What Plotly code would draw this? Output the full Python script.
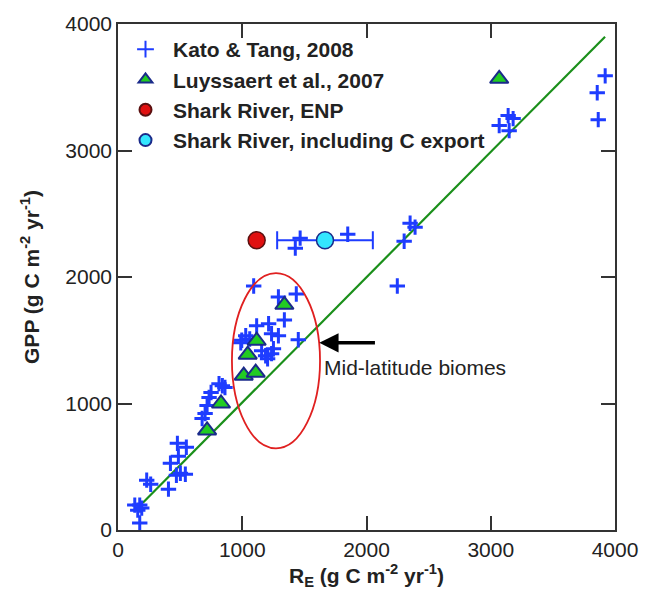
import plotly.graph_objects as go

# Kato & Tang, 2008
kato_re = [135, 175, 191, 159, 175, 231, 263, 406, 470, 502, 542, 422, 486, 478, 550,
           677, 701, 717, 733, 749, 813, 861, 840,
           988, 1028, 1092, 1116, 1156, 1188, 1204, 1212, 1236, 1251, 1236, 1291, 1291,
           1339, 1435, 1451, 996, 1060,
           1427, 1466, 1849, 2351, 2391, 2303, 2248,
           3068, 3140, 3180, 3148, 3921, 3857, 3865]
kato_gpp = [197, 197, 173, 157, 55, 394, 362, 323, 433, 449, 441, 528, 583, 685, 654,
            882, 921, 984, 1047, 1087, 1157, 1126, 1140,
            1480, 1535, 1929, 1614, 1417, 1378, 1354, 1630, 1551, 1433, 1394, 1535, 1842,
            1661, 1866, 1504, 1500, 1510,
            2228, 2307, 2338, 2425, 2394, 2283, 1929,
            3197, 3276, 3252, 3157, 3590, 3457, 3244]

# Luyssaert et al., 2007
luy_re = [717, 829, 1012, 1108, 1044, 1116, 1339, 3068]
luy_gpp = [787, 1000, 1220, 1244, 1386, 1496, 1780, 3567]

# Shark River
enp_re = [1116]
enp_gpp = [2291]
exp_re = [1666]
exp_gpp = [2291]
exp_err = [385]

# fitted line
line_re = [200, 3920]
line_gpp = [215, 3900]

FONT = "Arial, Liberation Sans, sans-serif"

fig = go.Figure()
fig.add_trace(go.Scatter(x=line_re, y=line_gpp, mode="lines",
                         line=dict(color="#1a8f1a", width=2.2), showlegend=False))
fig.add_trace(go.Scatter(x=kato_re, y=kato_gpp, mode="markers", name="Kato & Tang, 2008",
                         marker=dict(symbol="cross-thin", size=11,
                                     line=dict(color="#1e3cff", width=3))))
fig.add_trace(go.Scatter(x=luy_re, y=luy_gpp, mode="markers", name="Luyssaert et al., 2007",
                         marker=dict(symbol="triangle-up", size=16, color="#22cc22",
                                     line=dict(color="#1a2a8a", width=2))))
fig.add_trace(go.Scatter(x=enp_re, y=enp_gpp, mode="markers", name="Shark River, ENP",
                         marker=dict(symbol="circle", size=17, color="#e01010",
                                     line=dict(color="#5a1010", width=1.5))))
fig.add_trace(go.Scatter(x=exp_re, y=exp_gpp, mode="markers",
                         name="Shark River, including C export",
                         error_x=dict(type="data", array=exp_err, color="#1e3cff",
                                      thickness=2, width=9),
                         marker=dict(symbol="circle", size=17, color="#33e6ff",
                                     line=dict(color="#1a2a8a", width=1.5))))

fig.add_shape(type="circle", xref="x", yref="y", x0=917, x1=1626, y0=646, y1=2031,
              line=dict(color="#e02020", width=1.8))

fig.add_annotation(x=1620, y=1480, ax=2080, ay=1480, xref="x", yref="y",
                   axref="x", ayref="y", text="", showarrow=True,
                   arrowhead=2, arrowsize=1.1, arrowwidth=3.5, arrowcolor="black")
fig.add_annotation(x=1645, y=1283, xref="x", yref="y", text="Mid-latitude biomes",
                   showarrow=False, xanchor="left",
                   font=dict(family=FONT, size=21, color="#222"))

axis_common = dict(range=[0, 4000], dtick=1000, ticks="inside", ticklen=14,
                   tickwidth=1.5, tickcolor="#333", showline=True, linecolor="#333",
                   linewidth=1.5, mirror="ticks", showgrid=False, zeroline=False,
                   tickfont=dict(family=FONT, size=21, color="#222"))

fig.update_layout(
    width=650, height=605,
    margin=dict(l=118, r=24, t=22, b=75),
    plot_bgcolor="white", paper_bgcolor="white",
    xaxis=dict(**axis_common,
               title=dict(text="<b>R<sub>E</sub> (g C m<sup>-2</sup> yr<sup>-1</sup>)</b>",
                          font=dict(family=FONT, size=21, color="#222"),
                          standoff=8)),
    yaxis=dict(**axis_common,
               title=dict(text="<b>GPP (g C m<sup>-2</sup> yr<sup>-1</sup>)</b>",
                          font=dict(family=FONT, size=21, color="#222"),
                          standoff=20)),
    legend=dict(x=0.0, y=0.99, xanchor="left", yanchor="top",
                bgcolor="rgba(0,0,0,0)", itemwidth=45,
                font=dict(family=FONT, size=21, color="#222", weight="bold"),
                itemsizing="constant", tracegroupgap=0),
)

fig.write_html("out.html")
